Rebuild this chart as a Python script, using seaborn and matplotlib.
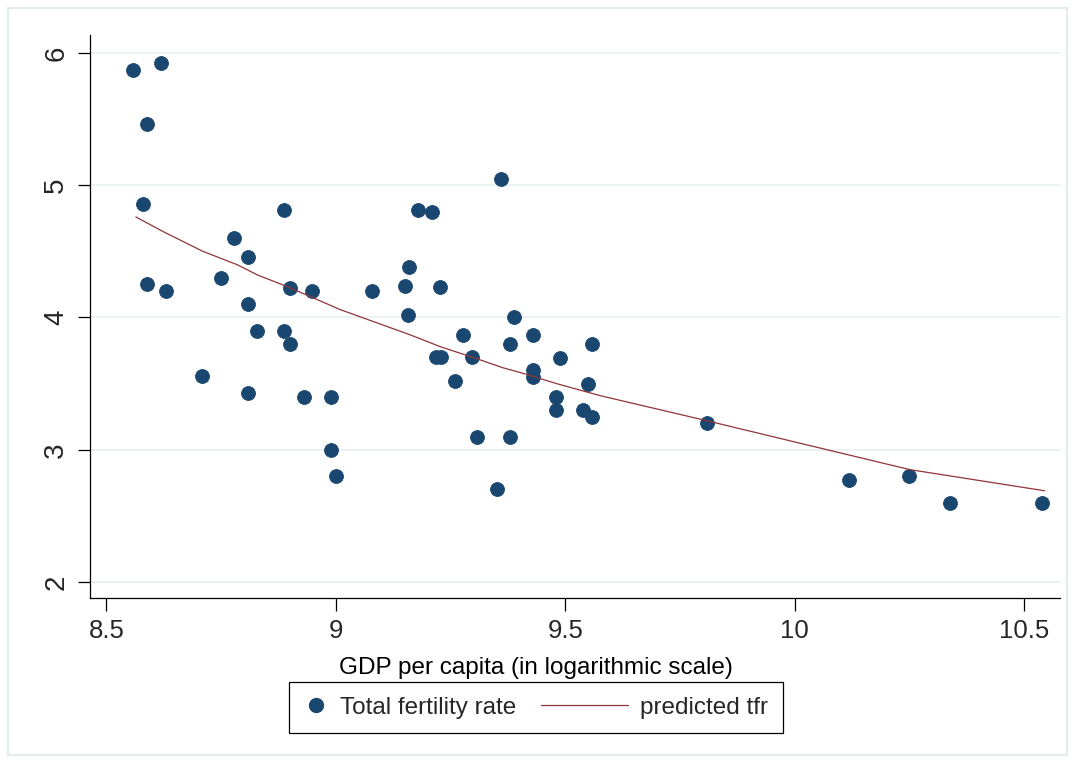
import seaborn as sns
import pandas as pd
import matplotlib
matplotlib.use('Agg')
import matplotlib.pyplot as plt
from matplotlib.lines import Line2D
from matplotlib.patches import Rectangle
from matplotlib.legend_handler import HandlerLine2D

# log GDP per capita and total fertility rate
gdp_log = [8.558, 8.619, 8.588, 8.580, 8.588, 8.630, 8.708, 8.749, 8.778, 8.808, 8.808, 8.808,
           8.828, 8.887, 8.887, 8.900, 8.900, 8.930, 8.948, 8.990, 8.990, 9.000, 9.078, 9.150,
           9.159, 9.157, 9.179, 9.209, 9.227, 9.218, 9.229, 9.260, 9.277, 9.296, 9.307, 9.360,
           9.350, 9.379, 9.379, 9.388, 9.430, 9.430, 9.430, 9.479, 9.479, 9.488, 9.538, 9.549,
           9.558, 9.558, 9.808, 10.118, 10.248, 10.338, 10.538]
tfr = [5.87, 5.92, 5.46, 4.86, 4.25, 4.20, 3.56, 4.30, 4.60, 4.46, 4.10, 3.43,
       3.90, 4.81, 3.90, 4.22, 3.80, 3.40, 4.20, 3.40, 3.00, 2.80, 4.20, 4.24,
       4.38, 4.02, 4.81, 4.80, 4.23, 3.70, 3.70, 3.52, 3.87, 3.70, 3.10, 5.05,
       2.70, 3.80, 3.10, 4.00, 3.87, 3.60, 3.55, 3.40, 3.30, 3.69, 3.30, 3.50,
       3.80, 3.25, 3.20, 2.77, 2.80, 2.60, 2.60]

# predicted tfr curve
pred_x = [8.564, 8.623, 8.710, 8.784, 8.830, 8.889, 8.943, 9.009, 9.081, 9.161,
          9.227, 9.314, 9.364, 9.416, 9.481, 9.575, 9.808, 10.011, 10.251, 10.545]
pred_y = [4.76, 4.65, 4.50, 4.40, 4.32, 4.24, 4.16, 4.06, 3.97, 3.87,
          3.78, 3.68, 3.62, 3.57, 3.50, 3.41, 3.22, 3.05, 2.85, 2.69]

x_ticks = [8.5, 9, 9.5, 10, 10.5]
x_labels = ["8.5", "9", "9.5", "10", "10.5"]
y_ticks = [2, 3, 4, 5, 6]

df = pd.DataFrame({"gdp": gdp_log, "tfr": tfr})
pred = pd.DataFrame({"gdp": pred_x, "tfr": pred_y})

sns.set_theme(style="white")
plt.rcParams['font.family'] = ['Liberation Sans', 'DejaVu Sans']

navy = "#1a476f"
maroon = "#90353b"

fig = plt.figure(figsize=(10.75, 7.63), dpi=100)
ax = fig.add_axes([0.0837, 0.2163, 0.9023, 0.7378])

sns.scatterplot(data=df, x="gdp", y="tfr", ax=ax, color=navy, s=100,
                edgecolor=navy, linewidth=0.6, zorder=3)
sns.lineplot(data=pred, x="gdp", y="tfr", ax=ax, color=maroon, lw=0.9,
             sort=False, estimator=None, zorder=4)

ax.set_xlim(8.464, 10.578)
ax.set_ylim(1.88, 6.135)
ax.set_xticks(x_ticks)
ax.set_xticklabels(x_labels)
ax.set_yticks(y_ticks)
ax.yaxis.grid(True, color="#e8f0f2", lw=1.2)
ax.xaxis.grid(False)
ax.set_axisbelow(True)

for s in ["top", "right"]:
    ax.spines[s].set_visible(False)
for s in ["left", "bottom"]:
    ax.spines[s].set_color("black")
    ax.spines[s].set_linewidth(0.9)

ax.tick_params(axis="both", direction="out", length=9, width=0.9, color="black",
               bottom=True, left=True, pad=6.5)
ax.tick_params(axis="x", labelsize=18.5)
ax.tick_params(axis="y", labelsize=20, labelrotation=90, pad=6)
for lab in ax.get_yticklabels():
    lab.set_va("center")

ax.set_ylabel("")
ax.set_xlabel("GDP per capita (in logarithmic scale)", fontsize=17.5, color="black")
ax.xaxis.set_label_coords(0.4986, 1 - 657 / 763, transform=fig.transFigure)


class LongLine(HandlerLine2D):
    # draw the line handle further to the left, like the original key
    def create_artists(self, legend, orig_handle, xdescent, ydescent, width, height,
                       fontsize, trans):
        y = height / 2 - ydescent
        line = Line2D([-xdescent - 2.6 * width, width - xdescent], [y, y])
        self.update_prop(line, orig_handle, legend)
        line.set_transform(trans)
        return [line]


dot = Line2D([], [], ls="none", marker="o", color=navy, markersize=10)
red = Line2D([], [], color=maroon, lw=0.9)
fig.legend([dot, red], ["Total fertility rate", "predicted tfr"], ncol=2,
           loc="center", bbox_to_anchor=(536 / 1075, 1 - 707.5 / 763),
           fontsize=17.5, frameon=True, fancybox=False, edgecolor="black",
           framealpha=1, handlelength=1.0, handletextpad=0.5, columnspacing=3.6,
           borderpad=0.6, handler_map={red: LongLine()})
fig.legends[0].get_frame().set_linewidth(0.9)

# outer graph region border
fig.patches.append(Rectangle((8 / 1075, 8 / 763), 1 - 16 / 1075, 1 - 16 / 763,
                             transform=fig.transFigure, fill=False,
                             edgecolor="#e3ebee", lw=1.5))

plt.savefig("out.png", dpi=100)
